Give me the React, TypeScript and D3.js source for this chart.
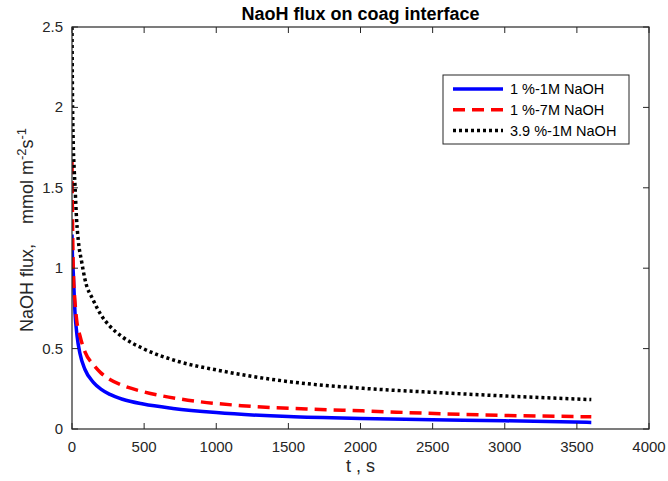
import React from "react";
import * as d3 from "d3";

// Time samples (s) and NaOH flux values (mmol m^-2 s^-1) for each case
const tBlue = [0, 3, 9, 21, 35, 55, 90, 148, 200, 263, 350, 494, 700, 1000, 1500, 2000, 2500, 3000, 3600];
const fluxBlue = [1.21, 1.08, 0.97, 0.72, 0.58, 0.47, 0.37, 0.29, 0.248, 0.215, 0.185, 0.155, 0.128, 0.102, 0.077, 0.065, 0.058, 0.051, 0.041];

const tRed = [0, 3, 9, 20, 32, 55, 90, 148, 200, 263, 350, 494, 748, 1176, 1626, 2007, 2689, 3600];
const fluxRed = [1.66, 1.35, 0.99, 0.8, 0.68, 0.58, 0.48, 0.4, 0.349, 0.308, 0.271, 0.232, 0.187, 0.145, 0.125, 0.113, 0.091, 0.076];

const tBlack = [0, 3, 8, 15, 21, 32, 44, 67, 90, 148, 200, 263, 350, 494, 737, 1003, 1499, 2019, 2504, 3012, 3600];
const fluxBlack = [2.5, 2.1, 1.8, 1.62, 1.51, 1.3, 1.17, 1.04, 0.93, 0.8, 0.711, 0.639, 0.572, 0.5, 0.42, 0.367, 0.295, 0.253, 0.228, 0.205, 0.183];

const xTicks = [0, 500, 1000, 1500, 2000, 2500, 3000, 3500, 4000];
const yTicks = [0, 0.5, 1, 1.5, 2, 2.5];

const seriesNames = ["1 %-1M NaOH", "1 %-7M NaOH", "3.9 %-1M NaOH"];

const W = 668;
const H = 481;
const left = 72;
const right = 649;
const top = 27;
const bottom = 429;
const ink = "#262626";
const font = "'Liberation Sans', Arial, sans-serif";

export default function App() {
  const x = d3.scaleLinear().domain([0, 4000]).range([left, right]);
  const y = d3.scaleLinear().domain([0, 2.5]).range([bottom, top]);

  const line = d3
    .line<[number, number]>()
    .x((d) => x(d[0]))
    .y((d) => y(d[1]))
    .curve(d3.curveMonotoneX);

  const zip = (ts: number[], vs: number[]) => ts.map((t, i) => [t, vs[i]] as [number, number]);

  const series = [
    { name: seriesNames[0], d: line(zip(tBlue, fluxBlue)), color: "#0000ff", dash: "none" },
    { name: seriesNames[1], d: line(zip(tRed, fluxRed)), color: "#ff0000", dash: "12 7" },
    { name: seriesNames[2], d: line(zip(tBlack, fluxBlack)), color: "#000000", dash: "3 3" },
  ];

  const tickLen = 6;
  const lgX = 443;
  const lgY = 75;
  const lgW = 186;
  const lgH = 69;

  return (
    <div style={{ position: "absolute", left: 0, top: 0 }}>
      <svg width={W} height={H} style={{ display: "block", background: "#fff" }} fontFamily={font}>
        <rect x={0} y={0} width={W} height={H} fill="#fff" />
        <defs>
          <clipPath id="plotClip">
            <rect x={left} y={top - 1} width={right - left} height={bottom - top + 1} />
          </clipPath>
        </defs>

        {/* curves */}
        <g clipPath="url(#plotClip)">
          {series.map((s) => (
            <path
              key={s.name}
              d={s.d || ""}
              fill="none"
              stroke={s.color}
              strokeWidth={3.5}
              strokeDasharray={s.dash}
            />
          ))}
        </g>

        {/* box */}
        <rect x={left} y={top} width={right - left} height={bottom - top} fill="none" stroke={ink} strokeWidth={1.2} />

        {/* x ticks */}
        {xTicks.map((t) => (
          <g key={"x" + t}>
            <line x1={x(t)} x2={x(t)} y1={bottom} y2={bottom - tickLen} stroke={ink} strokeWidth={1} />
            <line x1={x(t)} x2={x(t)} y1={top} y2={top + tickLen} stroke={ink} strokeWidth={1} />
            <text x={x(t)} y={bottom + 23} fontSize={15} textAnchor="middle" fill={ink}>
              {t}
            </text>
          </g>
        ))}

        {/* y ticks */}
        {yTicks.map((v) => (
          <g key={"y" + v}>
            <line x1={left} x2={left + tickLen} y1={y(v)} y2={y(v)} stroke={ink} strokeWidth={1} />
            <line x1={right} x2={right - tickLen} y1={y(v)} y2={y(v)} stroke={ink} strokeWidth={1} />
            <text x={left - 9} y={y(v) + 5} fontSize={15} textAnchor="end" fill={ink}>
              {v}
            </text>
          </g>
        ))}

        {/* title */}
        <text x={(left + right) / 2} y={20} fontSize={18} fontWeight="bold" textAnchor="middle" fill="#000">
          NaoH flux on coag interface
        </text>

        {/* x label */}
        <text x={(left + right) / 2} y={472} fontSize={18} textAnchor="middle" fill={ink}>
          t , s
        </text>

        {/* y label */}
        <text
          transform={`translate(33, 230) rotate(-90)`}
          fontSize={18}
          textAnchor="middle"
          fill={ink}
          style={{ whiteSpace: "pre" }}
        >
          <tspan>{"NaOH flux,    mmol m"}</tspan>
          <tspan fontSize={13} dy={-7}>-2</tspan>
          <tspan dy={7}>s</tspan>
          <tspan fontSize={13} dy={-7}>-1</tspan>
        </text>

        {/* legend */}
        <rect x={lgX} y={lgY} width={lgW} height={lgH} fill="#fff" stroke={ink} strokeWidth={1} />
        {series.map((s, i) => {
          const ly = lgY + 14 + i * 20.8;
          return (
            <g key={"lg" + i}>
              <line x1={lgX + 10} x2={lgX + 60} y1={ly} y2={ly} stroke={s.color} strokeWidth={3.5} strokeDasharray={s.dash} />
              <text x={lgX + 67} y={ly + 5} fontSize={14.5} fill="#000">
                {s.name}
              </text>
            </g>
          );
        })}
      </svg>
    </div>
  );
}
